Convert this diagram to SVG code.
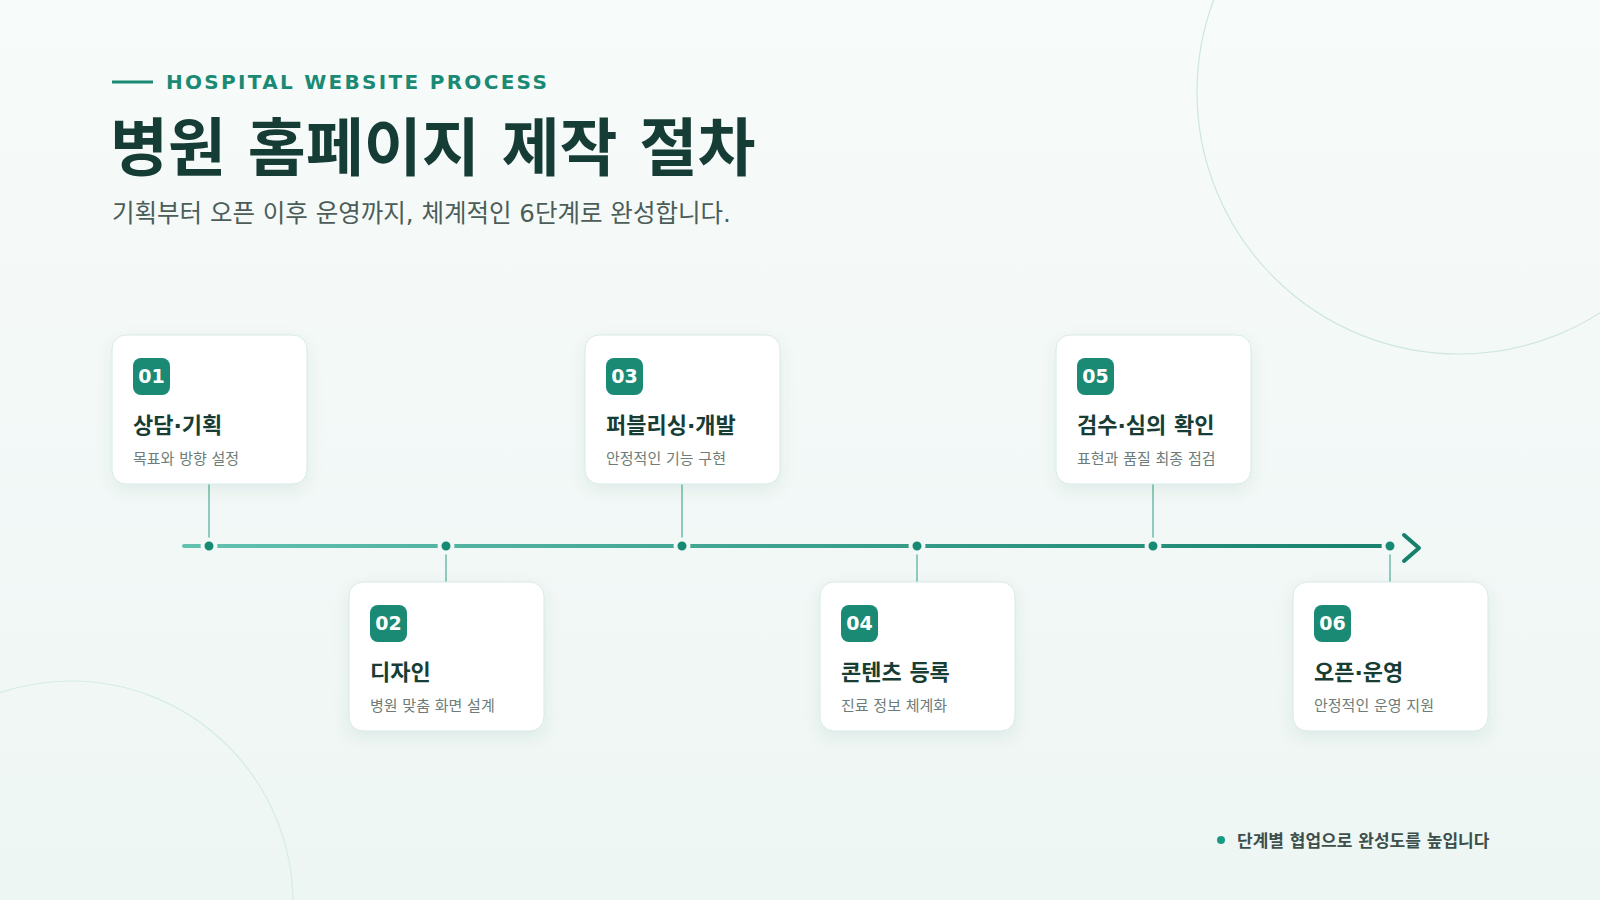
<svg xmlns="http://www.w3.org/2000/svg" width="1600" height="900" viewBox="0 0 1600 900">
<defs>
<linearGradient id="bg" x1="0" y1="0" x2="0" y2="1"><stop offset="0" stop-color="#f7fbfa"/><stop offset="1" stop-color="#eef6f4"/></linearGradient>
<linearGradient id="ln" x1="184" y1="0" x2="1420" y2="0" gradientUnits="userSpaceOnUse"><stop offset="0" stop-color="#62c2b0"/><stop offset="1" stop-color="#16806a"/></linearGradient>
<filter id="sh" x="-20%" y="-20%" width="140%" height="150%"><feDropShadow dx="0" dy="6" stdDeviation="8" flood-color="#1a5a4c" flood-opacity="0.08"/></filter>
<style>
.card{fill:#fff;stroke:#d6e9e4;stroke-width:1}
.badge{fill:#1a8a74}
.num{font-family:"DejaVu Sans",sans-serif;font-weight:bold;font-size:19px;fill:#fff;text-anchor:middle}
.t{font-family:"DejaVu Sans","Noto Sans CJK KR",sans-serif;font-weight:bold;font-size:22px;fill:#173d35}
.s{font-family:"DejaVu Sans","Noto Sans CJK KR",sans-serif;font-size:15px;fill:#6d7c78}
.dot{fill:#178a73;stroke:#f1f8f6;stroke-width:4}
.v{stroke:#8ccbbd;stroke-width:2}
</style>
</defs>
<rect width="1600" height="900" fill="url(#bg)"/>
<circle cx="1459" cy="92" r="262" fill="none" stroke="#cfe6df" stroke-width="1.2"/>
<circle cx="71" cy="903" r="222" fill="none" stroke="#d6ebe5" stroke-width="1.2"/>
<line x1="112" y1="82" x2="153" y2="82" stroke="#1a8a74" stroke-width="3"/>
<text x="166" y="89" font-family="DejaVu Sans,sans-serif" font-weight="bold" font-size="20" letter-spacing="2.3" fill="#1a8a74">HOSPITAL WEBSITE PROCESS</text>
<text x="110" y="170" font-family="DejaVu Sans,Noto Sans CJK KR,sans-serif" font-weight="bold" font-size="63" fill="#163d35">병원 홈페이지 제작 절차</text>
<text x="112" y="222" font-family="DejaVu Sans,Noto Sans CJK KR,sans-serif" font-size="24.5" fill="#4c5d58">기획부터 오픈 이후 운영까지, 체계적인 6단계로 완성합니다.</text>
<g id="connectors">
<line x1="184" y1="546" x2="1386" y2="546" stroke="url(#ln)" stroke-width="4" stroke-linecap="round"/>
<polyline points="1404,535 1419,548 1404,561" fill="none" stroke="#16806a" stroke-width="4" stroke-linecap="round" stroke-linejoin="round"/>
<line class="v" x1="209" y1="484" x2="209" y2="546"/>
<line class="v" x1="446" y1="546" x2="446" y2="582"/>
<line class="v" x1="682" y1="484" x2="682" y2="546"/>
<line class="v" x1="917" y1="546" x2="917" y2="582"/>
<line class="v" x1="1153" y1="484" x2="1153" y2="546"/>
<line class="v" x1="1390" y1="546" x2="1390" y2="582"/>
<circle class="dot" cx="209" cy="546" r="6.5"/>
<circle class="dot" cx="446" cy="546" r="6.5"/>
<circle class="dot" cx="682" cy="546" r="6.5"/>
<circle class="dot" cx="917" cy="546" r="6.5"/>
<circle class="dot" cx="1153" cy="546" r="6.5"/>
<circle class="dot" cx="1390" cy="546" r="6.5"/>
</g>
<g id="n1" transform="translate(112,335)"><rect class="card" width="195" height="149" rx="14" filter="url(#sh)"/><rect class="badge" x="21" y="23" width="37" height="37" rx="8"/><text class="num" x="39.5" y="48">01</text><text class="t" x="21" y="98">상담·기획</text><text class="s" x="21" y="129">목표와 방향 설정</text></g>
<g id="n2" transform="translate(349,582)"><rect class="card" width="195" height="149" rx="14" filter="url(#sh)"/><rect class="badge" x="21" y="23" width="37" height="37" rx="8"/><text class="num" x="39.5" y="48">02</text><text class="t" x="21" y="98">디자인</text><text class="s" x="21" y="129">병원 맞춤 화면 설계</text></g>
<g id="n3" transform="translate(585,335)"><rect class="card" width="195" height="149" rx="14" filter="url(#sh)"/><rect class="badge" x="21" y="23" width="37" height="37" rx="8"/><text class="num" x="39.5" y="48">03</text><text class="t" x="21" y="98">퍼블리싱·개발</text><text class="s" x="21" y="129">안정적인 기능 구현</text></g>
<g id="n4" transform="translate(820,582)"><rect class="card" width="195" height="149" rx="14" filter="url(#sh)"/><rect class="badge" x="21" y="23" width="37" height="37" rx="8"/><text class="num" x="39.5" y="48">04</text><text class="t" x="21" y="98">콘텐츠 등록</text><text class="s" x="21" y="129">진료 정보 체계화</text></g>
<g id="n5" transform="translate(1056,335)"><rect class="card" width="195" height="149" rx="14" filter="url(#sh)"/><rect class="badge" x="21" y="23" width="37" height="37" rx="8"/><text class="num" x="39.5" y="48">05</text><text class="t" x="21" y="98">검수·심의 확인</text><text class="s" x="21" y="129">표현과 품질 최종 점검</text></g>
<g id="n6" transform="translate(1293,582)"><rect class="card" width="195" height="149" rx="14" filter="url(#sh)"/><rect class="badge" x="21" y="23" width="37" height="37" rx="8"/><text class="num" x="39.5" y="48">06</text><text class="t" x="21" y="98">오픈·운영</text><text class="s" x="21" y="129">안정적인 운영 지원</text></g>
<circle cx="1221" cy="840" r="4" fill="#1a9a80"/>
<text x="1237" y="847" font-family="DejaVu Sans,Noto Sans CJK KR,sans-serif" font-weight="bold" font-size="17" fill="#3d4f4a">단계별 협업으로 완성도를 높입니다</text>
</svg>
